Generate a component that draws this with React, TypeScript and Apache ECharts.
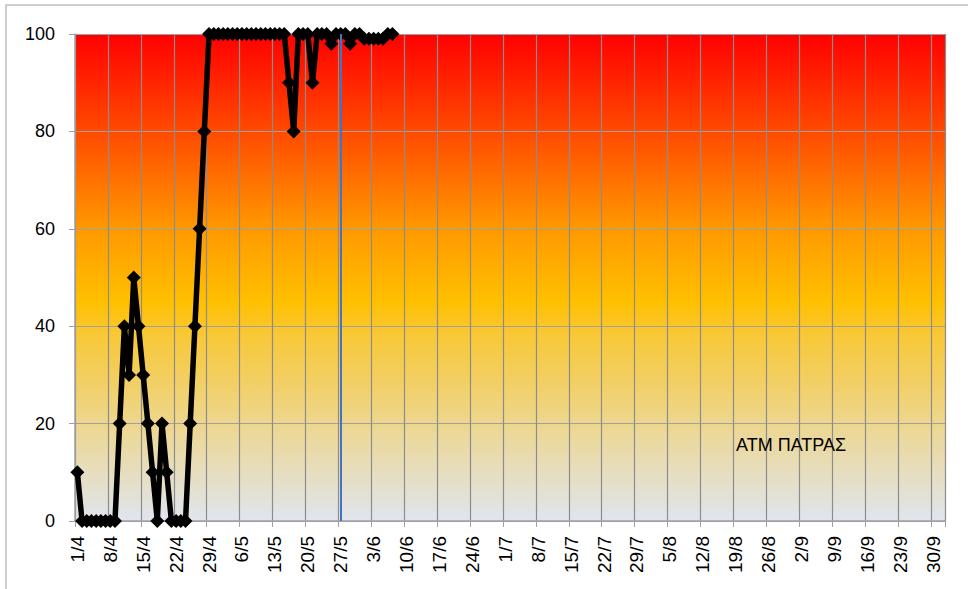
import React, { useEffect, useRef } from "react";
import * as echarts from "echarts";

// Month names/lengths used to build the daily category labels (1/4 .. 2/10)
const monthNumbers = [4, 5, 6, 7, 8, 9, 10];
const monthLengths = [30, 31, 30, 31, 31, 30, 2];

const categories: string[] = [];
monthNumbers.forEach((m, i) => {
  for (let d = 1; d <= monthLengths[i]; d++) categories.push(`${d}/${m}`);
});

// Daily values (starting 1/4)
const values = [
  10, 0, 0, 0, 0, 0, 0, 0, 0, 20, 40, 30, 50, 40, 30, 20, 10, 0, 20, 10, 0, 0, 0, 0, 20, 40, 60, 80,
  100, 100, 100, 100, 100, 100, 100, 100, 100, 100, 100, 100, 100, 100, 100, 100, 100,
  90, 80, 100, 100, 100, 90,
  100, 100, 100, 98, 100, 100, 100, 98, 100, 100, 99, 99, 99, 99, 99, 100, 100,
];

const markerDate = "27/5";
const chartLabel = "ΑΤΜ ΠΑΤΡΑΣ";
const yTicks = { min: 0, max: 100, interval: 20 };

export default function App() {
  const ref = useRef<HTMLDivElement>(null);
  useEffect(() => {
    if (!ref.current) return;
    const chart = echarts.init(ref.current, null, { renderer: "svg" });
    const font = "'Liberation Sans', Arial, sans-serif";
    chart.setOption({
      animation: false,
      backgroundColor: "#ffffff",
      textStyle: { fontFamily: font },
      title: {
        text: chartLabel,
        left: 731,
        top: 431,
        textStyle: { fontSize: 18, fontWeight: "normal", color: "#000", fontFamily: font },
      },
      graphic: [
        {
          type: "rect",
          shape: { x: 6, y: 5, width: 980, height: 600 },
          style: { fill: "none", stroke: "#BFBFBF", lineWidth: 1.5 },
          silent: true,
        },
      ],
      grid: {
        left: 75,
        right: 23,
        top: 34,
        bottom: 68,
        show: true,
        borderWidth: 0,
        backgroundColor: new echarts.graphic.LinearGradient(0, 0, 0, 1, [
          { offset: 0, color: "#FF0000" },
          { offset: 0.2, color: "#FF4A00" },
          { offset: 0.4, color: "#FF9900" },
          { offset: 0.55, color: "#FFC000" },
          { offset: 0.62, color: "#F8C838" },
          { offset: 0.8, color: "#EDD68E" },
          { offset: 1, color: "#E0E5EF" },
        ]),
      },
      xAxis: {
        type: "category",
        data: categories,
        boundaryGap: true,
        axisLine: { show: true, lineStyle: { color: "#A0A0A0", width: 1.5 } },
        axisTick: { show: true, interval: 6, length: 6, lineStyle: { color: "#A0A0A0" } },
        splitLine: { show: true, interval: 6, lineStyle: { color: "#8C8C8C", width: 1.2 } },
        axisLabel: {
          interval: 6,
          rotate: 90,
          margin: 15,
          fontSize: 19,
          color: "#000",
          fontFamily: font,
        },
      },
      yAxis: {
        type: "value",
        min: yTicks.min,
        max: yTicks.max,
        interval: yTicks.interval,
        axisLine: { show: true, lineStyle: { color: "#A0A0A0", width: 1.5 } },
        axisTick: { show: true, length: 6, lineStyle: { color: "#A0A0A0" } },
        splitLine: { show: true, lineStyle: { color: "#A0A0A0", width: 1.2 } },
        axisLabel: { fontSize: 18, color: "#000", margin: 20, fontFamily: font },
      },
      series: [
        {
          type: "line",
          data: values,
          symbol: "diamond",
          symbolSize: 14,
          showAllSymbol: true,
          lineStyle: { color: "#000", width: 5.5 },
          itemStyle: { color: "#000" },
          markLine: {
            silent: true,
            symbol: ["none", "none"],
            label: { show: false },
            lineStyle: { color: "#4472C4", width: 2, type: "solid" },
            data: [{ xAxis: markerDate }],
          },
        },
      ],
    });
    return () => chart.dispose();
  }, []);
  return (
    <div
      ref={ref}
      style={{ position: "fixed", left: 0, top: 0, width: 968, height: 589 }}
    />
  );
}
